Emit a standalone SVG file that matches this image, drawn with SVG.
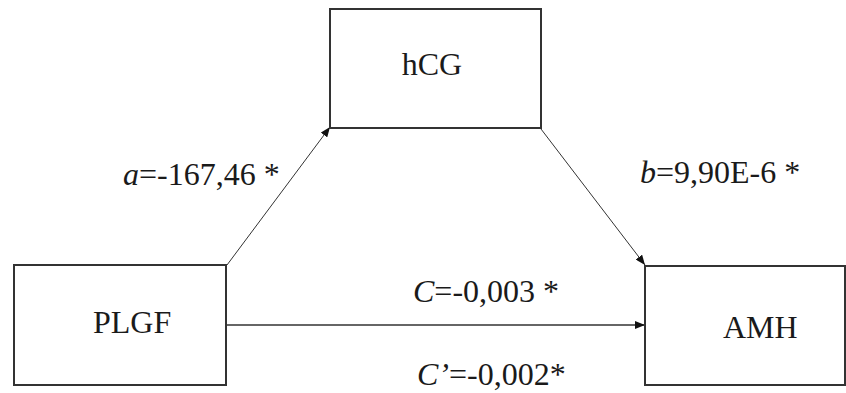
<svg xmlns="http://www.w3.org/2000/svg" width="846" height="393" viewBox="0 0 846 393">
<defs>
<style>
.box{fill:#fff;stroke:#333;stroke-width:2}
text{font-family:'Liberation Serif','Times New Roman',Times,serif;font-size:32px;fill:#1a1a1a}
.conn{stroke:#333;fill:none}
</style>
<marker id="ah" viewBox="0 0 10 8" refX="10" refY="4" markerWidth="10" markerHeight="8" markerUnits="userSpaceOnUse" orient="auto">
<path d="M0,0 L10,4 L0,8 z" fill="#111"/>
</marker>
</defs>
<rect width="846" height="393" fill="#fff"/>
<g id="connectors">
<line class="conn" x1="227" y1="265" x2="330" y2="127" stroke-width="1" marker-end="url(#ah)"/>
<line class="conn" x1="541" y1="129" x2="645" y2="265" stroke-width="1" marker-end="url(#ah)"/>
<line class="conn" x1="227" y1="325" x2="645" y2="325" stroke-width="1.5" marker-end="url(#ah)"/>
<text x="123" y="185" font-family="Liberation Serif, serif"><tspan font-style="italic">a</tspan>=-167,46 *</text>
<text x="640" y="183" font-family="Liberation Serif, serif"><tspan font-style="italic">b</tspan>=9,90E-6 *</text>
<text x="413" y="302" font-family="Liberation Serif, serif"><tspan font-style="italic">C</tspan>=-0,003 *</text>
<text x="417" y="385" font-family="Liberation Serif, serif"><tspan font-style="italic">C’</tspan>=-0,002*</text>
</g>
<g id="node-hCG">
<rect class="box" x="330" y="9" width="211" height="119"/>
<text x="432" y="75" text-anchor="middle" font-family="Liberation Serif, serif">hCG</text>
</g>
<g id="node-PLGF">
<rect class="box" x="14" y="265" width="212" height="120"/>
<text x="93" y="333" font-family="Liberation Serif, serif">PLGF</text>
</g>
<g id="node-AMH">
<rect class="box" x="645" y="266" width="200" height="119"/>
<text x="723" y="338" font-family="Liberation Serif, serif">AMH</text>
</g>
</svg>
